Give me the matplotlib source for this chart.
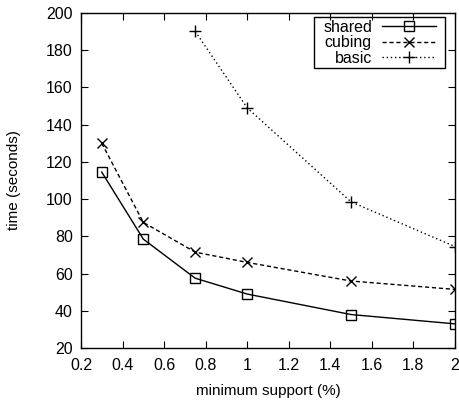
import matplotlib
matplotlib.use("Agg")
import matplotlib.pyplot as plt
from matplotlib.patches import Rectangle

plt.rcParams['font.family'] = ['Liberation Sans', 'DejaVu Sans']

support = [0.3, 0.5, 0.75, 1.0, 1.5, 2.0]
shared = [114.5, 78.5, 57.5, 49, 38, 33]
cubing = [130, 87.5, 71.5, 66, 56, 51.5]
basic_x = [0.75, 1.0, 1.5, 2.0]
basic = [190, 149, 98.5, 74.5]

fig = plt.figure(figsize=(4.6, 4.01), dpi=100)
ax = fig.add_axes([0.176, 0.132, 0.813, 0.836])

ax.plot(support, shared, color='black', lw=1, ls='-', marker='s', ms=7.5,
        mfc='none', mec='black', mew=1, label='shared')
ax.plot(support, cubing, color='black', lw=1, ls=(0, (3, 2)), marker='x', ms=7.5,
        mew=1, label='cubing')
ax.plot(basic_x, basic, color='black', lw=1, ls=(0, (1, 2)), marker='+', ms=8,
        mew=1, label='basic')

ax.set_xlim(0.2, 2.0)
ax.set_ylim(20, 200)
ax.set_xticks([0.2, 0.4, 0.6, 0.8, 1, 1.2, 1.4, 1.6, 1.8, 2])
ax.set_xticklabels(['0.2', '0.4', '0.6', '0.8', '1', '1.2', '1.4', '1.6', '1.8', '2'])
ax.set_yticks(range(20, 201, 20))
ax.tick_params(direction='in', top=True, right=True, length=5, labelsize=11.5)
ax.tick_params(axis='x', pad=7)
ax.tick_params(axis='y', pad=6)
for s in ax.spines.values():
    s.set_linewidth(1)

ax.set_xlabel('minimum support (%)', fontsize=11, labelpad=8)
ax.set_ylabel('time (seconds)', fontsize=11, labelpad=18)

# gnuplot-like key: right-aligned labels, sample after text
leg = ax.legend(loc='upper right', bbox_to_anchor=(0.949, 0.979), markerfirst=False,
                fontsize=11.5, frameon=False, handlelength=3.4, borderaxespad=0,
                borderpad=0, labelspacing=0.03, handletextpad=0.6)
for t in leg.get_texts():
    t.set_ha('right')
leg._legend_box.align = 'right'

fig.canvas.draw()
bb = leg.get_window_extent().transformed(fig.transFigure.inverted())
px, py = 9 / 460, 2.5 / 401
fig.add_artist(Rectangle((bb.x0 - px, bb.y0 - py), bb.width + 2 * px, bb.height + 2 * py,
                         transform=fig.transFigure, fill=False, ec='black', lw=1))

fig.savefig('out.png', dpi=100)
